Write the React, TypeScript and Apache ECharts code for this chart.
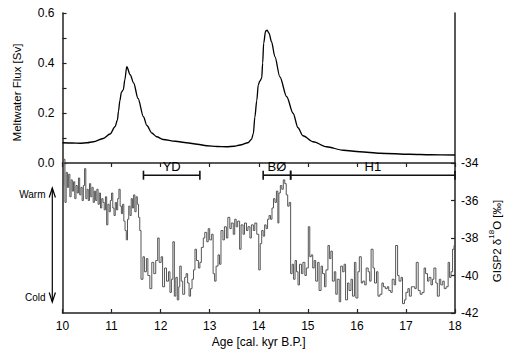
import React, { useEffect, useRef } from "react";
import * as echarts from "echarts";

// Meltwater flux [Sv] vs age [cal. kyr B.P.]
const fluxAges = [10.0, 10.2, 10.36, 10.5, 10.63, 10.83, 10.97, 11.07, 11.12, 11.14, 11.17, 11.2, 11.24, 11.27, 11.31, 11.38, 11.45, 11.54, 11.65, 11.72, 11.82, 11.92, 12.05, 12.3, 12.53, 12.75, 12.94, 13.15, 13.34, 13.5, 13.62, 13.78, 13.85, 13.89, 13.92, 13.96, 13.99, 14.02, 14.06, 14.08, 14.1, 14.14, 14.17, 14.21, 14.26, 14.33, 14.43, 14.57, 14.7, 14.8, 14.9, 15.11, 15.38, 15.72, 16.06, 16.47, 17.08, 17.5, 18.0];
const fluxValues = [0.081, 0.08, 0.079, 0.081, 0.085, 0.098, 0.116, 0.145, 0.172, 0.206, 0.25, 0.283, 0.293, 0.333, 0.385, 0.353, 0.32, 0.258, 0.185, 0.15, 0.12, 0.105, 0.094, 0.087, 0.081, 0.075, 0.069, 0.066, 0.065, 0.067, 0.072, 0.081, 0.094, 0.117, 0.183, 0.25, 0.312, 0.327, 0.339, 0.4, 0.479, 0.528, 0.531, 0.519, 0.485, 0.425, 0.345, 0.265, 0.199, 0.141, 0.109, 0.085, 0.065, 0.051, 0.045, 0.039, 0.035, 0.033, 0.032];

// GISP2 d18O [permil] vs age
const gispAges = [
  10.0, 10.025, 10.05, 10.075, 10.1, 10.125, 10.15, 10.175, 10.2, 10.225, 10.25, 10.275, 10.3, 10.325, 10.35, 10.375, 10.4, 10.425, 10.45, 10.475,
  10.5, 10.525, 10.55, 10.575, 10.6, 10.625, 10.65, 10.675, 10.7, 10.725, 10.75, 10.775, 10.8, 10.825, 10.85, 10.875, 10.9, 10.925, 10.95, 10.975,
  11.0, 11.025, 11.05, 11.075, 11.1, 11.125, 11.15, 11.175, 11.2, 11.225, 11.25, 11.275, 11.3, 11.325, 11.35, 11.375, 11.4, 11.425, 11.45, 11.475,
  11.5, 11.525, 11.55, 11.575,
  11.6, 11.64, 11.67, 11.71, 11.74, 11.78, 11.82, 11.86, 11.9, 11.94, 11.97, 12.01, 12.04, 12.08, 12.12, 12.16, 12.19, 12.22, 12.25, 12.28,
  12.31, 12.34, 12.37, 12.39, 12.42, 12.45, 12.49, 12.52, 12.55, 12.58, 12.61, 12.64, 12.67, 12.7, 12.73, 12.77, 12.8, 12.83, 12.87, 12.9,
  12.94, 12.97, 13.0, 13.04, 13.07, 13.1, 13.13, 13.17, 13.2, 13.23, 13.27, 13.3, 13.34, 13.37, 13.41, 13.44, 13.48, 13.51, 13.54, 13.57,
  13.61, 13.64, 13.68, 13.71, 13.75, 13.78, 13.82, 13.85, 13.89, 13.92, 13.96,
  14.0, 14.03, 14.06, 14.09, 14.12, 14.15, 14.18, 14.21, 14.24, 14.27, 14.3, 14.33, 14.36, 14.39, 14.41, 14.44, 14.47, 14.5, 14.53, 14.56,
  14.59, 14.62, 14.65,
  14.68, 14.71, 14.74, 14.77, 14.8, 14.83, 14.87, 14.9, 14.94, 14.97, 15.01, 15.04, 15.07, 15.1, 15.13, 15.16, 15.2, 15.23, 15.27, 15.3,
  15.34, 15.37, 15.41, 15.44, 15.47, 15.5, 15.54, 15.57, 15.6, 15.64, 15.67, 15.71, 15.74, 15.77, 15.81, 15.84, 15.88, 15.91, 15.95, 15.98,
  16.02, 16.05, 16.09, 16.12, 16.16, 16.19, 16.23, 16.26, 16.29, 16.33, 16.36, 16.4, 16.43, 16.47, 16.51, 16.54, 16.58, 16.62, 16.65, 16.69,
  16.72, 16.76, 16.79, 16.83, 16.86, 16.9, 16.93, 16.97, 17.0, 17.04, 17.07, 17.11, 17.15, 17.18, 17.21, 17.25, 17.29, 17.33, 17.37, 17.4,
  17.44, 17.47, 17.51, 17.54, 17.57, 17.61, 17.64, 17.68, 17.71, 17.75, 17.78, 17.82, 17.86, 17.89, 17.92, 17.95, 17.98, 18.0,
];
const gispValues = [
  -35.2, -33.8, -36.1, -34.5, -35.3, -34.6, -35.8, -34.9, -35.5, -35.0, -35.9, -35.2, -35.6, -34.8, -35.7, -35.3, -36.0, -35.2, -34.3, -35.9,
  -35.4, -36.0, -35.1, -35.8, -35.3, -36.1, -35.5, -36.0, -35.4, -36.2, -35.6, -36.4, -35.9, -36.1, -36.5, -35.8, -37.3, -36.2, -36.6, -36.0,
  -35.6, -36.4, -36.8, -36.1, -36.5, -35.9, -35.4, -36.3, -36.7, -36.2, -37.1, -37.6, -38.1, -37.0, -36.3, -36.8, -35.9, -36.4, -35.7, -36.6,
  -35.8, -36.2, -36.9, -37.6,
  -40.2, -39.0, -39.8, -39.1, -40.0, -40.7, -39.3, -39.9, -39.2, -38.0, -39.3, -39.0, -40.6, -39.6, -40.3, -39.8, -40.9, -40.2, -38.2, -41.1,
  -40.1, -41.3, -40.6, -39.5, -40.3, -41.0, -40.1, -39.9, -40.4, -41.1, -40.7, -40.2, -39.7, -38.6, -39.2, -39.6, -39.3, -38.5, -38.0, -37.7,
  -38.2, -37.5, -38.1, -37.8, -39.9, -40.3, -39.5, -38.9, -39.4, -37.6, -38.1, -37.4, -38.0, -36.9, -37.5, -37.2, -37.8, -37.0, -37.4, -37.1,
  -38.6, -37.3, -37.8, -37.2, -37.6, -37.4, -38.0, -37.3, -37.6, -37.2, -37.8,
  -39.7, -38.3, -37.6, -37.9, -37.3, -37.5, -37.0, -36.8, -37.0, -36.4, -35.9, -36.1, -35.5, -37.2, -35.6, -35.2, -35.4, -34.9, -35.1, -35.7,
  -36.3, -36.1, -39.9,
  -39.4, -40.2, -39.2, -39.8, -40.5, -39.4, -39.9, -39.3, -40.0, -39.6, -37.4, -39.0, -38.9, -39.6, -39.2, -40.3, -39.3, -40.8, -39.5, -39.9,
  -40.6, -39.7, -38.4, -39.1, -38.7, -40.3, -39.8, -41.0, -40.2, -41.4, -39.5, -39.8, -39.4, -41.3, -40.4, -40.8, -40.2, -41.1, -39.3, -41.2,
  -39.8, -39.0, -40.4, -40.3, -40.5, -39.6, -39.8, -40.3, -38.6, -39.6, -40.4, -39.8, -41.1, -41.0, -40.4, -40.6, -40.7, -40.6, -40.8, -40.9,
  -40.2, -40.5, -38.4, -40.0, -40.3, -40.1, -41.5, -41.3, -40.9, -40.7, -41.1, -40.6, -40.6, -40.7, -39.3, -40.8, -41.0, -40.9, -39.6, -39.9,
  -40.3, -40.1, -40.5, -40.2, -39.6, -40.4, -41.1, -40.2, -40.5, -40.3, -40.7, -40.6, -39.3, -40.1, -39.8, -38.6, -38.4, -38.4,
];

// Climate periods
const periodNames = ["YD", "BØ", "H1"];
const periodStart = [11.65, 14.09, 14.65];
const periodEnd = [12.8, 14.65, 18.0];
const periodLevel = -34.65;

const FONT = "'Liberation Sans', Arial, Helvetica, sans-serif";
const AXIS_COLOR = "#222";

export default function App() {
  const ref = useRef<HTMLDivElement>(null);

  useEffect(() => {
    if (!ref.current) return;
    const chart = echarts.init(ref.current, null, { renderer: "svg" });
    const axisLine = { show: true, lineStyle: { color: AXIS_COLOR, width: 1.5 } };
    const tick = { show: true, inside: true, length: 4, lineStyle: { color: AXIS_COLOR, width: 1.2 } };
    const labelStyle = { color: "#000", fontSize: 12, fontFamily: FONT };

    chart.setOption({
      animation: false,
      backgroundColor: "#fff",
      textStyle: { fontFamily: FONT },
      grid: [
        { left: 62.5, right: 50, top: 13, height: 150 },
        { left: 62.5, right: 50, top: 163, height: 150 },
      ],
      xAxis: [
        {
          gridIndex: 0, type: "value", position: "top", min: 10, max: 18, interval: 1,
          axisLine, axisTick: tick, axisLabel: { show: false }, splitLine: { show: false },
        },
        {
          gridIndex: 1, type: "value", position: "bottom", min: 10, max: 18, interval: 1,
          axisLine, axisTick: tick, axisLabel: { ...labelStyle, margin: 7 }, splitLine: { show: false },
          name: "Age [cal. kyr B.P.]", nameLocation: "middle", nameGap: 23,
          nameTextStyle: { ...labelStyle, fontSize: 12 },
        },
      ],
      yAxis: [
        {
          gridIndex: 0, type: "value", position: "left", min: 0, max: 0.6, interval: 0.1,
          axisLine, axisTick: tick, splitLine: { show: false },
          axisLabel: {
            ...labelStyle, margin: 8,
            formatter: (v: number) => (Math.round(v * 10) % 2 === 0 ? v.toFixed(1) : ""),
          },
        },
        {
          gridIndex: 0, type: "value", position: "right", min: 0, max: 0.6,
          axisLine, axisTick: { show: false }, axisLabel: { show: false }, splitLine: { show: false },
        },
        {
          gridIndex: 1, type: "value", position: "left", min: -42, max: -34,
          axisLine, axisTick: { show: false }, axisLabel: { show: false }, splitLine: { show: false },
        },
        {
          gridIndex: 1, type: "value", position: "right", min: -42, max: -34, interval: 2,
          axisLine, axisTick: tick, axisLabel: { ...labelStyle, margin: 6 }, splitLine: { show: false },
        },
      ],
      series: [
        {
          type: "line", xAxisIndex: 0, yAxisIndex: 0,
          data: fluxAges.map((a, i) => [a, fluxValues[i]]),
          showSymbol: false, smooth: 0.3, smoothMonotone: "x",
          lineStyle: { color: "#000", width: 1.3 },
        },
        {
          type: "line", xAxisIndex: 1, yAxisIndex: 3, step: "end", clip: false,
          data: gispAges.map((a, i) => [a, gispValues[i]]),
          showSymbol: false,
          lineStyle: { color: "#555", width: 1 },
        },
        {
          type: "custom", xAxisIndex: 1, yAxisIndex: 3, clip: false,
          data: periodStart.map((s, i) => [s, periodEnd[i]]),
          renderItem: (params: any, api: any) => {
            const p0 = api.coord([api.value(0), periodLevel]);
            const p1 = api.coord([api.value(1), periodLevel]);
            const ls = { stroke: "#111", lineWidth: 1.6 };
            return {
              type: "group",
              children: [
                { type: "line", shape: { x1: p0[0], y1: p0[1], x2: p1[0], y2: p1[1] }, style: ls },
                { type: "line", shape: { x1: p0[0], y1: p0[1] - 4.5, x2: p0[0], y2: p0[1] + 4.5 }, style: ls },
                { type: "line", shape: { x1: p1[0], y1: p1[1] - 4.5, x2: p1[0], y2: p1[1] + 4.5 }, style: ls },
                {
                  type: "text", x: (p0[0] + p1[0]) / 2, y: p0[1] - 9,
                  style: {
                    text: periodNames[params.dataIndex], fill: "#000", fontSize: 13,
                    fontFamily: FONT, align: "center", verticalAlign: "middle",
                  },
                },
              ],
            };
          },
        },
      ],
      graphic: [
        {
          type: "text", x: 17, y: 92.5, rotation: Math.PI / 2,
          style: { text: "Meltwater Flux [Sv]", fill: "#000", fontSize: 11.5, fontFamily: FONT, align: "center", verticalAlign: "middle" },
        },
        {
          type: "text", x: 495, y: 241, rotation: Math.PI / 2,
          style: {
            text: "{a|GISP2 δ}{s|18}{a|O [‰]}", fill: "#000", fontFamily: FONT,
            align: "center", verticalAlign: "middle",
            rich: {
              a: { fontSize: 11.5, lineHeight: 16, fontFamily: FONT, fill: "#000", verticalAlign: "bottom" },
              s: { fontSize: 8, lineHeight: 10, fontFamily: FONT, fill: "#000", verticalAlign: "top" },
            },
          },
        },
        { type: "line", shape: { x1: 52.3, y1: 188.5, x2: 52.3, y2: 301.5 }, style: { stroke: "#000", lineWidth: 1.2 } },
        { type: "polyline", shape: { points: [[49.2, 197.5], [52.3, 188], [55.4, 197.5]] }, style: { stroke: "#000", lineWidth: 1.2, fill: null } },
        { type: "polyline", shape: { points: [[49.2, 292.5], [52.3, 302], [55.4, 292.5]] }, style: { stroke: "#000", lineWidth: 1.2, fill: null } },
        {
          type: "text", x: 45.5, y: 194,
          style: { text: "Warm", fill: "#000", fontSize: 10, fontFamily: FONT, align: "right", verticalAlign: "middle" },
        },
        {
          type: "text", x: 45.5, y: 297,
          style: { text: "Cold", fill: "#000", fontSize: 10, fontFamily: FONT, align: "right", verticalAlign: "middle" },
        },
      ],
    });
    return () => chart.dispose();
  }, []);

  return <div ref={ref} style={{ position: "fixed", left: 0, top: 0, width: 505, height: 361, background: "#fff" }} />;
}
